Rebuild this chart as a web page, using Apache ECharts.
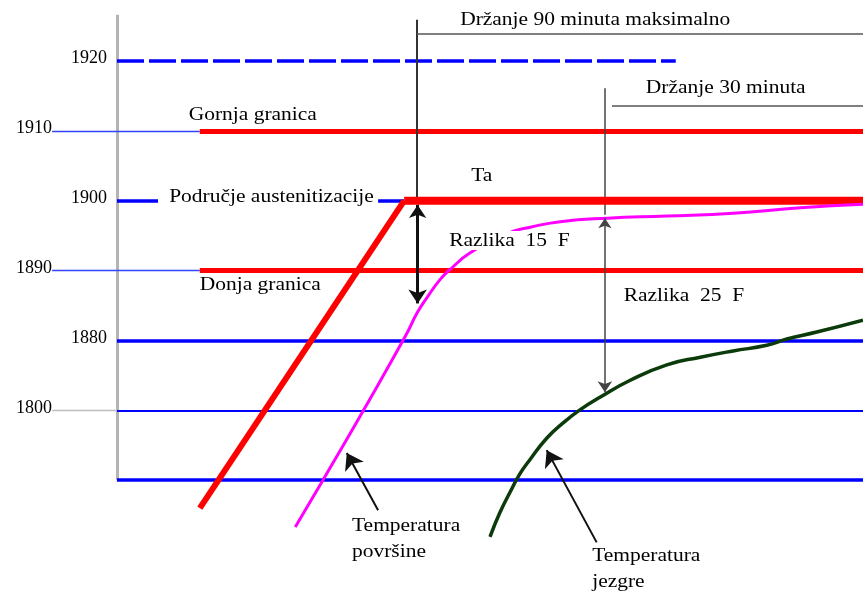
<!DOCTYPE html>
<html>
<head>
<meta charset="utf-8">
<script src="https://cdn.jsdelivr.net/npm/echarts@6/dist/echarts.min.js"></script>
<style>
  html, body { margin: 0; padding: 0; background: #fff; }
  #chart { width: 863px; height: 592px; }
</style>
</head>
<body>
<div id="chart"></div>
<script>
// Temperature levels on the vertical scale (index = level step)
const levelLabels = ['', '1800', '1880', '1890', '1900', '1910', '1920'];
const levelTicks = [1, 2, 3, 4, 5, 6];

// Time runs 0..100 (relative units); values are [time, level]
const furnaceRamp = [[11.1, -0.40], [38.5, 4.0]];
const furnaceHold = [[38.5, 4.0], [100, 4.0]];
const surfaceTemp = [
  [23.9, -0.67], [27.6, 0.0], [33.2, 1.03], [38.9, 2.11],
  [40.2, 2.39], [41.6, 2.62], [43.3, 2.87], [44.6, 3.01], [47.3, 3.25],
  [52.3, 3.53], [55.4, 3.62], [59.4, 3.70], [65.7, 3.75], [73.7, 3.78],
  [82.6, 3.82], [91.6, 3.90], [100, 3.95]
];
const coreTemp = [
  [50.0, -0.81], [51.3, -0.47], [52.7, -0.17], [54.0, 0.09], [55.4, 0.30],
  [57.6, 0.60], [59.8, 0.82], [62.1, 1.01], [64.8, 1.19], [68.8, 1.43],
  [73.7, 1.65], [78.2, 1.76], [82.6, 1.85], [87.1, 1.93], [89.8, 2.02],
  [93.8, 2.12], [100, 2.29]
];

// Limits and holding periods
const upperLimit = 5, lowerLimit = 3, austenitizing = 4;
const limitStart = 11.1;
const leaderStart = -8.7;
const hold90 = { start: 40.2, top: 6.59, bar: 6.39 };
const hold30 = { start: 65.4, top: 5.61, bar: 5.36, barStart: 66.35 };
const diff15 = [[40.3, 3.94], [40.3, 2.53]];
const diff25 = [[65.4, 3.75], [65.4, 1.26]];
const surfacePointer = [[35.0, -0.43], [30.8, 0.39]];
const corePointer = [[64.3, -0.89], [57.6, 0.43]];

// Annotation texts: [text, time, level, align, white background]
const notes = [
  ['Držanje 90 minuta maksimalno', 64.1, 6.59, 'center', false],
  ['Držanje 30 minuta', 81.6, 5.61, 'center', false],
  ['Gornja granica', 18.2, 5.23, 'center', false],
  ['Područje austenitizacije', 20.7, 4.05, 'center', false],
  ['Ta', 48.9, 4.35, 'center', false],
  ['Razlika  15  F', 52.6, 3.43, 'center', true],
  ['Donja granica', 19.2, 2.79, 'center', false],
  ['Razlika  25  F', 76.0, 2.64, 'center', false],
  ['Temperatura\npovršine', 31.5, -0.84, 'left', false],
  ['Temperatura\njezgre', 63.7, -1.27, 'left', false]
];

const BLUE = '#0000ff', RED = '#ff0000', MAGENTA = '#ff00ff', GREEN = '#0b3a0b';
const SERIF = '"Liberation Serif", "Times New Roman", serif';

function seg(coords, color, width, type) {
  return { coords: coords, lineStyle: { color: color, width: width, type: type || 'solid', opacity: 1 } };
}

const referenceSegments = [
  seg([[0, 6.66], [0, 0]], '#b4b4b4', 3),
  seg([[0, 6], [74.9, 6]], BLUE, 3.5, [27, 5]),
  seg([[leaderStart, upperLimit], [limitStart, upperLimit]], '#3344ff', 1.3),
  seg([[limitStart, upperLimit], [100, upperLimit]], RED, 5),
  seg([[0, austenitizing], [5.5, austenitizing]], BLUE, 3.5),
  seg([[35.0, austenitizing], [38.5, austenitizing]], BLUE, 3.5),
  seg([[leaderStart, lowerLimit], [limitStart, lowerLimit]], '#3344ff', 1.3),
  seg([[limitStart, lowerLimit], [100, lowerLimit]], RED, 5),
  seg([[0, 2], [100, 2]], BLUE, 3.5),
  seg([[leaderStart, 1], [0, 1]], '#bdbdbd', 1.3),
  seg([[0, 1], [100, 1]], BLUE, 2),
  seg([[0, 0], [100, 0]], BLUE, 3.5)
];

const bracketSegments = [
  seg([[hold90.start, hold90.top], [hold90.start, austenitizing]], '#333', 2),
  seg([[hold90.start, hold90.bar], [100, hold90.bar]], '#555', 1.5),
  seg([[hold30.start, hold30.top], [hold30.start, 3.8]], '#444', 1.5),
  seg([[hold30.barStart, hold30.bar], [100, hold30.bar]], '#555', 1.5)
];

function arrowSeries(coords, color, width, symbols, size) {
  return {
    type: 'lines', coordinateSystem: 'cartesian2d', clip: false, z: 6,
    symbol: symbols, symbolSize: size, silent: true,
    lineStyle: { color: color, width: width, opacity: 1 },
    data: [{ coords: coords }]
  };
}

const chart = echarts.init(document.getElementById('chart'));
chart.setOption({
  animation: false,
  backgroundColor: '#fff',
  grid: { left: 117, right: 0, top: 26, bottom: 7 },
  xAxis: { type: 'value', min: 0, max: 100, show: false },
  yAxis: {
    type: 'value', min: -1.5, max: 6.5,
    axisLine: { show: false }, axisTick: { show: false }, splitLine: { show: false },
    axisLabel: {
      customValues: levelTicks,
      margin: 10,
      formatter: function (v) {
        const i = Math.round(v);
        return (i % 2 === 0 ? '{near|' : '{far|') + levelLabels[i] + '}';
      },
      rich: {
        near: { fontFamily: SERIF, fontSize: 18, color: '#000', padding: [0, 0, 5, 0] },
        far: { fontFamily: SERIF, fontSize: 18, color: '#000', padding: [0, 55, 5, 0] }
      }
    }
  },
  series: [
    {
      type: 'lines', coordinateSystem: 'cartesian2d', clip: false, z: 1, silent: true,
      data: referenceSegments
    },
    {
      type: 'lines', coordinateSystem: 'cartesian2d', clip: false, z: 2, silent: true,
      data: bracketSegments
    },
    {
      name: 'Peć', type: 'line', data: furnaceRamp, showSymbol: false, clip: false, z: 3,
      lineStyle: { color: RED, width: 6 }
    },
    {
      name: 'Ta', type: 'line', data: furnaceHold, showSymbol: false, clip: false, z: 3,
      lineStyle: { color: RED, width: 8 }
    },
    {
      name: 'Temperatura površine', type: 'line', data: surfaceTemp, showSymbol: false,
      smooth: 0.5, clip: false, z: 4,
      lineStyle: { color: MAGENTA, width: 3 }
    },
    {
      name: 'Temperatura jezgre', type: 'line', data: coreTemp, showSymbol: false,
      smooth: 0.5, clip: false, z: 4,
      lineStyle: { color: GREEN, width: 3.5 }
    },
    arrowSeries(diff15, '#111', 3, ['arrow', 'arrow'], [13, 14]),
    arrowSeries(diff25, '#444', 1.5, ['arrow', 'arrow'], [10, 11]),
    arrowSeries(surfacePointer, '#111', 2, ['none', 'arrow'], [13, 16]),
    arrowSeries(corePointer, '#111', 2, ['none', 'arrow'], [13, 16]),
    {
      type: 'custom', coordinateSystem: 'cartesian2d', clip: false, z: 10, silent: true,
      encode: { x: 0, y: 1 },
      data: notes.map(function (n, i) { return [n[1], n[2], i]; }),
      renderItem: function (params, api) {
        const n = notes[api.value(2)];
        const p = api.coord([api.value(0), api.value(1)]);
        return {
          type: 'text', x: p[0], y: p[1], scaleX: 1.13,
          style: {
            text: n[0], fill: '#000', fontFamily: SERIF, fontSize: 19,
            align: n[3], verticalAlign: 'middle', lineHeight: n[4] ? 19 : 26,
            backgroundColor: n[4] ? '#fff' : null, padding: n[4] ? [0, 1] : 0
          }
        };
      }
    }
  ]
});
</script>
</body>
</html>
